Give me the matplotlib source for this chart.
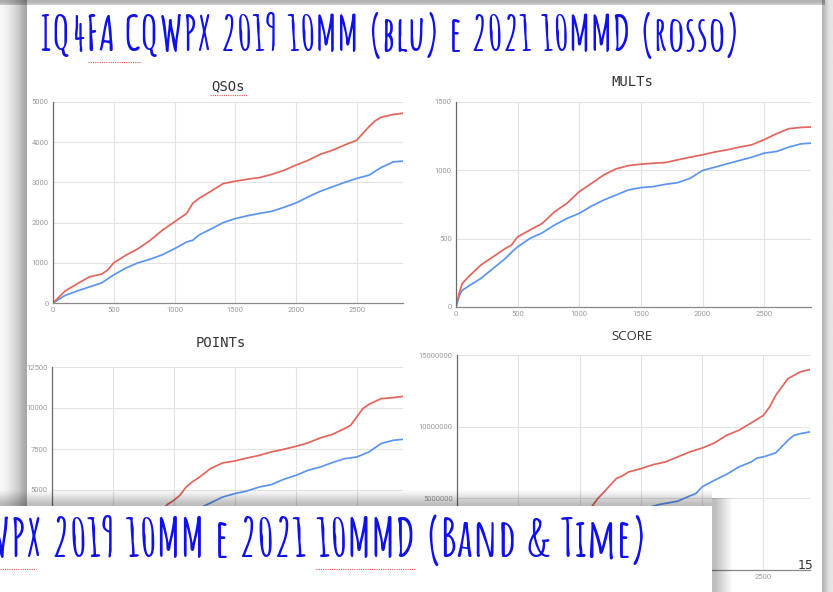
import matplotlib
matplotlib.use('Agg')
import matplotlib.pyplot as plt
import numpy as np

# ---------------- data ----------------
x_ticks = [0, 500, 1000, 1500, 2000, 2500]
x_tick_labels = ['0', '500', '1000', '1500', '2000', '2500']

x_qso_red = [0, 100, 200, 300, 400, 450, 500, 600, 700, 800, 900, 1000, 1100, 1150, 1200, 1300, 1400, 1500,
             1600, 1700, 1800, 1900, 2000, 2100, 2200, 2300, 2400, 2500, 2550, 2600, 2650, 2700, 2800, 2880]
qso_red = [0, 300, 480, 650, 720, 820, 1000, 1190, 1350, 1560, 1810, 2020, 2230, 2480, 2600, 2780, 2970, 3030,
           3080, 3120, 3200, 3300, 3430, 3550, 3700, 3800, 3930, 4050, 4220, 4385, 4530, 4620, 4690, 4720]
x_qso_blue = [0, 100, 200, 300, 400, 500, 600, 700, 800, 900, 1000, 1100, 1150, 1200, 1300, 1400, 1500, 1600,
              1700, 1800, 1900, 2000, 2100, 2200, 2300, 2400, 2500, 2600, 2700, 2800, 2880]
qso_blue = [0, 190, 300, 400, 500, 700, 870, 1000, 1090, 1200, 1350, 1520, 1560, 1690, 1840, 2000, 2100, 2170,
            2230, 2280, 2380, 2490, 2640, 2780, 2890, 3000, 3100, 3180, 3370, 3510, 3530]
qso_yticks = [0, 1000, 2000, 3000, 4000, 5000]
qso_ylabels = ['0', '1000', '2000', '3000', '4000', '5000']

x_mult = [0, 25, 50, 100, 200, 300, 400, 450, 500, 600, 700, 800, 900, 1000, 1100, 1200, 1300, 1400, 1500,
          1600, 1700, 1800, 1900, 2000, 2100, 2200, 2300, 2400, 2500, 2600, 2700, 2800, 2880]
mult_red = [0, 100, 171, 220, 306, 367, 428, 453, 514, 563, 612, 697, 759, 844, 905, 967, 1011, 1035, 1045,
            1052, 1057, 1077, 1096, 1114, 1134, 1150, 1170, 1187, 1224, 1268, 1305, 1314, 1317]
mult_blue = [0, 80, 122, 152, 208, 281, 355, 400, 440, 502, 543, 600, 648, 685, 739, 783, 820, 857, 874,
             881, 898, 910, 942, 999, 1023, 1048, 1072, 1096, 1126, 1138, 1170, 1194, 1199]
mult_yticks = [0, 500, 1000, 1500]
mult_ylabels = ['0', '500', '1000', '1500']

x_pts_red = [0, 200, 400, 600, 800, 900, 950, 1000, 1050, 1100, 1150, 1200, 1300, 1400, 1500, 1600, 1700,
             1800, 1900, 2000, 2100, 2200, 2300, 2400, 2450, 2500, 2550, 2600, 2700, 2800, 2880]
pts_red = [0, 1000, 1600, 2500, 3300, 3800, 4130, 4370, 4680, 5180, 5490, 5730, 6300, 6650, 6770, 6950, 7110,
           7320, 7480, 7660, 7870, 8170, 8390, 8740, 8940, 9450, 9960, 10220, 10570, 10630, 10710]
x_pts_blue = [0, 200, 400, 600, 800, 1000, 1100, 1200, 1300, 1400, 1500, 1600, 1700, 1800, 1900, 2000, 2100,
              2200, 2300, 2400, 2500, 2600, 2700, 2800, 2880]
pts_blue = [0, 680, 1130, 1980, 2480, 3080, 3450, 3850, 4210, 4570, 4780, 4940, 5180, 5330, 5650, 5890, 6200,
            6400, 6670, 6910, 7010, 7320, 7830, 8030, 8090]
pts_yticks = [0, 2500, 5000, 7500, 10000, 12500]
pts_ylabels = ['', '', '5000', '7500', '10000', '12500']     # lower labels are covered by the banner
pts_xlabels = ['', '', '', '', '', '']                       # covered by the banner

x_score_red = [0, 200, 400, 600, 800, 1000, 1100, 1150, 1200, 1300, 1350, 1400, 1500, 1600, 1700, 1800, 1900,
               2000, 2100, 2200, 2300, 2400, 2500, 2550, 2600, 2700, 2800, 2875]
score_red = [0, 300000, 680000, 1400000, 2300000, 3700000, 4420000, 5000000, 5450000, 6380000, 6570000,
             6840000, 7070000, 7350000, 7540000, 7890000, 8240000, 8510000, 8860000, 9400000, 9750000,
             10260000, 10790000, 11370000, 12180000, 13350000, 13820000, 13980000]
x_score_blue = [0, 200, 400, 600, 800, 1000, 1200, 1400, 1500, 1650, 1800, 1900, 1950, 2000, 2100, 2200, 2300,
                2400, 2450, 2500, 2600, 2700, 2750, 2800, 2875]
score_blue = [0, 140000, 400000, 1000000, 1500000, 2100000, 3000000, 3900000, 4200000, 4570000, 4800000,
              5170000, 5340000, 5800000, 6260000, 6680000, 7190000, 7540000, 7820000, 7890000, 8170000,
              9050000, 9400000, 9510000, 9630000]
score_yticks = [0, 5000000, 10000000, 15000000]
score_ylabels = ['', '5000000', '10000000', '15000000']
score_xlabels = ['', '', '', '', '', '2500']

title_text = 'IQ4FA CQWPX 2019 10MM (blu) e 2021 10MMD (rosso)'
banner_text = 'CQWPX 2019 10MM e 2021 10MMD (Band & Time)'

# ---------------- style ----------------
RED = '#e3655b'
BLUE = '#5b95ef'
GRID = '#e3e3e3'
TICKC = '#9a9a9a'
TITLE_BLUE = '#1010e8'
HAND = ['Amatic SC', 'DejaVu Sans']

W, H = 833, 592
fig = plt.figure(figsize=(W / 100, H / 100), dpi=100)
fig.patch.set_facecolor('white')


def px_axes(left, top, right, bottom, z=1):
    return fig.add_axes([left / W, 1 - bottom / H, (right - left) / W, (bottom - top) / H], zorder=z)


def style(ax, yticks, ylabels, xlabels):
    ax.set_xlim(0, 2880)
    ax.set_ylim(yticks[0], yticks[-1])
    ax.set_xticks(x_ticks)
    ax.set_xticklabels(xlabels)
    ax.set_yticks(yticks)
    ax.set_yticklabels(ylabels)
    ax.grid(True, color=GRID, lw=0.8)
    ax.set_axisbelow(True)
    for s in ['top', 'right']:
        ax.spines[s].set_visible(False)
    ax.spines['left'].set_color('#6a6a6a')
    ax.spines['left'].set_linewidth(0.9)
    ax.spines['bottom'].set_color('#8a8a8a')
    ax.spines['bottom'].set_linewidth(0.9)
    ax.tick_params(length=0, labelsize=5.5, labelcolor=TICKC, pad=3)
    for lab in ax.get_xticklabels() + ax.get_yticklabels():
        lab.set_family('Roboto')
    ax.patch.set_alpha(0)


ax1 = px_axes(53, 102, 403, 303)
ax1.plot(x_qso_blue, qso_blue, color=BLUE, lw=1.25)
ax1.plot(x_qso_red, qso_red, color=RED, lw=1.25)
style(ax1, qso_yticks, qso_ylabels, x_tick_labels)

ax2 = px_axes(456, 102, 811, 307)
ax2.plot(x_mult, mult_blue, color=BLUE, lw=1.25)
ax2.plot(x_mult, mult_red, color=RED, lw=1.25)
style(ax2, mult_yticks, mult_ylabels, x_tick_labels)

ax3 = px_axes(52, 367, 403, 572)
ax3.plot(x_pts_blue, pts_blue, color=BLUE, lw=1.25)
ax3.plot(x_pts_red, pts_red, color=RED, lw=1.25)
style(ax3, pts_yticks, pts_ylabels, pts_xlabels)

ax4 = px_axes(457, 355, 810, 570)
ax4.plot(x_score_blue, score_blue, color=BLUE, lw=1.25)
ax4.plot(x_score_red, score_red, color=RED, lw=1.25)
style(ax4, score_yticks, score_ylabels, score_xlabels)

# ---------------- overlay (slide decorations) ----------------
ov = fig.add_axes([0, 0, 1, 1], zorder=10)
ov.axis('off')
ov.patch.set_alpha(0)


def grad_h(x0, x1, y0, y1, vals, z):
    arr = np.array([vals], dtype=float)
    ov.imshow(arr, extent=(x0, x1, y1, y0), cmap='gray', vmin=0, vmax=1, aspect='auto',
              interpolation='bilinear', zorder=z)


def alpha_grad(x0, x1, y0, y1, alphas, vertical, z):
    a = np.array(alphas, dtype=float)
    if vertical:
        img = np.zeros((len(a), 1, 4))
        img[:, 0, 3] = a
    else:
        img = np.zeros((1, len(a), 4))
        img[0, :, 3] = a
    ov.imshow(img, extent=(x0, x1, y1, y0), aspect='auto', interpolation='bilinear', zorder=z)


# chart titles
ov.text(228, 86, 'QSOs', ha='center', va='center', fontsize=10, family='DejaVu Sans Mono', color='#333333')
ov.text(632, 82, 'MULTs', ha='center', va='center', fontsize=10, family='DejaVu Sans Mono', color='#333333')
ov.text(221, 343, 'POINTs', ha='center', va='center', fontsize=10, family='DejaVu Sans Mono', color='#333333')
ov.text(632, 336, 'SCORE', ha='center', va='center', fontsize=9.5, family='Open Sans', color='#333333')

# main title
ov.text(740, 51, title_text, ha='right', va='baseline', fontsize=34.5, family=HAND, weight='bold',
        color=TITLE_BLUE)
ov.plot([88, 141], [62, 62], color='#e05050', lw=0.8, ls=(0, (1, 1)), zorder=3)
ov.plot([210, 247], [95, 95], color='#e05050', lw=0.8, ls=(0, (1, 1)), zorder=3)

# page number
ov.text(806, 569, '15', ha='center', va='baseline', fontsize=9, family='DejaVu Sans', color='#333333', zorder=2)

# slide borders
grad_h(0, 27, 0, 592, [0.97, 0.95, 0.92, 0.88, 0.84, 0.79, 0.72, 0.66], 5)
grad_h(822, 833, 0, 592, [0.72, 0.8, 0.88, 0.9], 5)
alpha_grad(0, 825, 0, 5, [0.3, 0.28, 0.2], True, 5)

# banner with shadow
alpha_grad(0, 712, 488, 506, [0.0, 0.06, 0.13, 0.2, 0.26], True, 6)
alpha_grad(712, 736, 498, 592, [0.26, 0.17, 0.08, 0.0], False, 6)
ov.add_patch(plt.Rectangle((0, 506), 712, 100, facecolor='white', edgecolor='none', zorder=7))
ov.text(648, 557, banner_text, ha='right', va='baseline', fontsize=38, family=HAND, weight='bold',
        color=TITLE_BLUE, zorder=8)
ov.plot([0, 36], [569, 569], color='#e05050', lw=0.8, ls=(0, (1, 1)), zorder=8)
ov.plot([316, 416], [569, 569], color='#e05050', lw=0.8, ls=(0, (1, 1)), zorder=8)

ov.set_xlim(0, W)
ov.set_ylim(H, 0)

fig.savefig('out.png', dpi=100, facecolor='white')
